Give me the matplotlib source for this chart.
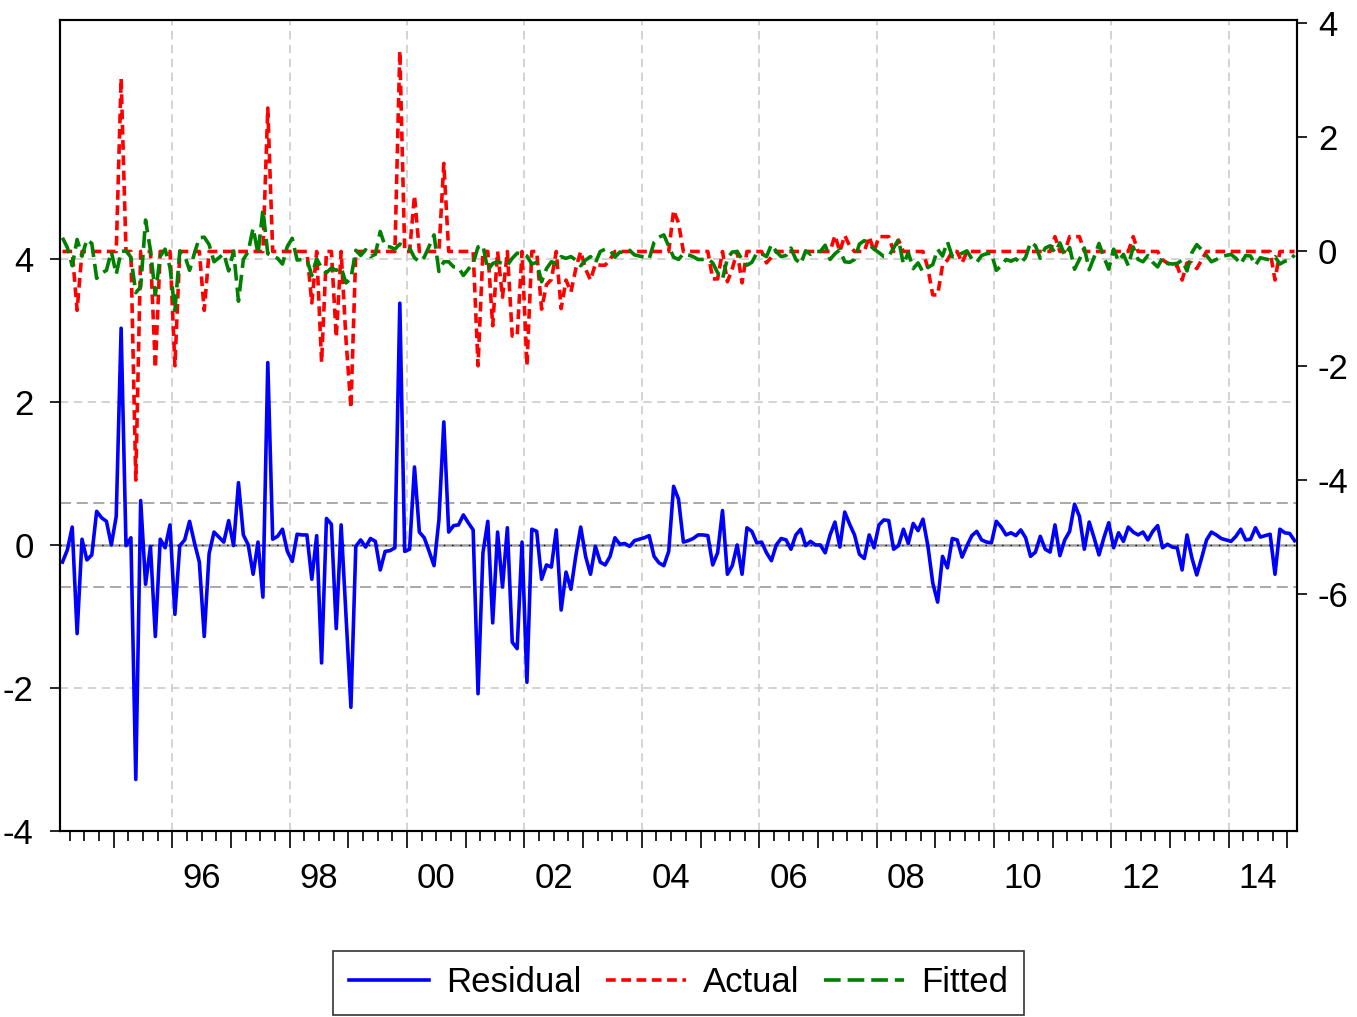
import numpy as np
import pandas as pd
import matplotlib
matplotlib.use('Agg')
import matplotlib.pyplot as plt

plt.rcParams['font.family'] = ['Liberation Sans', 'DejaVu Sans']
plt.rcParams['lines.scale_dashes'] = False
plt.rcParams['axes.unicode_minus'] = False

# monthly sample 1994M02 - 2015M02
months = pd.period_range('1994-02', '2015-02', freq='M')

# residuals (left axis), one row per year
residual = [
    -0.24, -0.07, 0.25, -1.24, 0.08, -0.21, -0.14, 0.47, 0.38, 0.33, 0.00,           # 1994
    0.40, 3.03, -0.01, 0.10, -3.28, 0.62, -0.55, -0.02, -1.28, 0.08, -0.04, 0.28,    # 1995
    -0.97, -0.01, 0.07, 0.33, 0.03, -0.24, -1.28, -0.12, 0.18, 0.11, 0.04, 0.34,     # 1996
    -0.01, 0.87, 0.14, 0.00, -0.41, 0.04, -0.73, 2.55, 0.08, 0.12, 0.22, -0.09,      # 1997
    -0.23, 0.15, 0.14, 0.14, -0.48, 0.13, -1.65, 0.37, 0.29, -1.17, 0.28, -1.00,     # 1998
    -2.27, -0.02, 0.07, -0.03, 0.09, 0.05, -0.35, -0.09, -0.08, -0.04, 3.38, -0.09,  # 1999
    -0.06, 1.09, 0.18, 0.10, -0.09, -0.29, 0.35, 1.72, 0.18, 0.27, 0.28, 0.42,       # 2000
    0.31, 0.21, -2.08, -0.11, 0.33, -1.09, 0.18, -0.59, 0.24, -1.36, -1.45, 0.04,    # 2001
    -1.92, 0.22, 0.19, -0.48, -0.28, -0.31, 0.21, -0.91, -0.38, -0.62, -0.15, 0.25,  # 2002
    -0.16, -0.41, -0.02, -0.24, -0.28, -0.16, 0.10, 0.01, 0.02, -0.02, 0.06, 0.08,   # 2003
    0.10, 0.13, -0.16, -0.25, -0.29, -0.09, 0.82, 0.64, 0.04, 0.06, 0.09, 0.14,      # 2004
    0.14, 0.13, -0.28, -0.11, 0.48, -0.41, -0.29, 0.00, -0.41, 0.24, 0.19, 0.03,     # 2005
    0.04, -0.11, -0.22, 0.00, 0.09, 0.07, -0.06, 0.14, 0.22, -0.01, 0.05, 0.00,      # 2006
    0.00, -0.11, 0.14, 0.32, -0.03, 0.46, 0.29, 0.14, -0.13, -0.19, 0.14, -0.04,     # 2007
    0.28, 0.35, 0.34, -0.06, -0.01, 0.22, 0.02, 0.30, 0.20, 0.36, -0.01, -0.53,      # 2008
    -0.80, -0.16, -0.32, 0.09, 0.07, -0.17, -0.01, 0.13, 0.19, 0.07, 0.04, 0.03,     # 2009
    0.33, 0.25, 0.14, 0.17, 0.13, 0.21, 0.10, -0.16, -0.10, 0.12, -0.06, -0.10,      # 2010
    0.28, -0.15, 0.07, 0.19, 0.57, 0.40, -0.06, 0.32, 0.10, -0.14, 0.10, 0.31,       # 2011
    -0.04, 0.17, 0.05, 0.25, 0.18, 0.14, 0.18, 0.07, 0.19, 0.27, -0.04, 0.01,        # 2012
    -0.03, -0.04, -0.35, 0.14, -0.18, -0.42, -0.18, 0.07, 0.18, 0.14, 0.09, 0.07,    # 2013
    0.05, 0.12, 0.22, 0.07, 0.08, 0.24, 0.11, 0.13, 0.15, -0.41, 0.22, 0.17,         # 2014
    0.16, 0.06,                                                                      # 2015
]

# actual series (right axis)
actual = [
    0.00, 0.00, 0.00, -1.03, 0.00, 0.00, 0.00, 0.00, 0.00, 0.00, 0.00,               # 1994
    0.00, 3.03, 0.00, 0.00, -4.00, 0.00, 0.00, 0.00, -2.04, 0.00, 0.00, 0.00,        # 1995
    -2.00, 0.00, 0.00, 0.00, 0.00, 0.00, -1.03, 0.00, 0.00, 0.00, 0.00, 0.00,        # 1996
    0.00, 0.00, 0.00, 0.00, 0.00, 0.00, 0.00, 2.51, 0.00, 0.00, 0.00, 0.00,          # 1997
    0.00, 0.00, 0.00, 0.00, -0.90, 0.00, -1.94, 0.00, 0.00, -1.50, 0.00, -1.55,      # 1998
    -2.74, 0.00, 0.00, 0.00, 0.00, 0.00, 0.00, 0.00, 0.00, 0.00, 3.51, 0.00,         # 1999
    0.00, 0.98, 0.00, 0.00, 0.00, 0.00, 0.00, 1.54, 0.00, 0.00, 0.00, 0.00,          # 2000
    0.00, 0.00, -2.00, 0.00, 0.00, -1.30, 0.00, -0.80, 0.00, -1.48, -1.48, 0.00,     # 2001
    -2.00, 0.00, 0.00, -1.01, -0.58, -0.49, 0.00, -1.00, -0.50, -0.71, -0.30, 0.00,  # 2002
    -0.31, -0.50, -0.22, -0.24, -0.24, -0.14, 0.00, 0.00, 0.00, 0.00, 0.00, 0.00,    # 2003
    0.00, 0.00, 0.00, 0.00, 0.00, 0.00, 0.72, 0.50, 0.00, 0.00, 0.00, 0.00,          # 2004
    0.00, 0.00, -0.48, -0.48, 0.00, -0.53, -0.30, 0.00, -0.55, 0.00, 0.00, 0.00,     # 2005
    0.00, -0.20, -0.10, 0.00, 0.00, 0.00, 0.00, 0.00, 0.00, 0.00, 0.00, 0.00,        # 2006
    0.00, 0.00, 0.00, 0.28, 0.00, 0.28, 0.10, 0.00, 0.00, 0.00, 0.26, 0.00,          # 2007
    0.26, 0.26, 0.26, 0.00, 0.20, 0.00, 0.00, 0.00, 0.00, 0.00, -0.29, -0.76,        # 2008
    -0.76, -0.24, -0.15, 0.00, 0.00, -0.20, 0.00, 0.00, 0.00, 0.00, 0.00, 0.00,      # 2009
    0.00, 0.00, 0.00, 0.00, 0.00, 0.00, 0.00, 0.00, 0.00, 0.00, 0.00, 0.00,          # 2010
    0.26, 0.00, 0.00, 0.26, 0.26, 0.26, 0.00, 0.00, 0.00, 0.00, 0.00, 0.00,          # 2011
    0.00, 0.00, 0.00, 0.00, 0.26, 0.00, 0.00, 0.00, 0.00, 0.00, -0.15, -0.20,        # 2012
    -0.25, -0.25, -0.50, -0.20, -0.20, -0.30, -0.15, 0.00, 0.00, 0.00, 0.00, 0.00,   # 2013
    0.00, 0.00, 0.00, 0.00, 0.00, 0.00, 0.00, 0.00, 0.00, -0.50, 0.00, 0.00,         # 2014
    0.00, 0.00,                                                                      # 2015
]

se_band = 0.59  # +/- one standard error of the regression
label_years = list(range(1996, 2015, 2))

resid = np.array(residual)
act = np.array(actual)
fitted = act - resid

# observations sit in the middle of their month
t = months.year + (months.month - 1) / 12 + 1 / 24

W, H = 1357, 1017
fig = plt.figure(figsize=(W / 100, H / 100), dpi=100)
ax = fig.add_axes([60 / W, 1 - 831 / H, (1297 - 60) / W, (831 - 20) / H])
ax2 = ax.twinx()

# grid
for yr in label_years:
    ax.axvline(yr, color='#cccccc', lw=1.2, dashes=(6, 4), zorder=0)
for y in [-2, 2, 4]:
    ax.axhline(y, color='#cccccc', lw=1.2, dashes=(6, 4), zorder=0)
ax.axhline(0, color='#a0a0a0', lw=1.8, zorder=1)
ax.axhline(0, color='black', lw=1.0, dashes=(1, 5), zorder=1)
for y in [se_band, -se_band]:
    ax.axhline(y, color='#999999', lw=1.2, dashes=(8, 4), zorder=1)

l1, = ax.plot(t, resid, color='#0000ff', lw=2.6, zorder=3, label='Residual')
l2, = ax2.plot(t, act, color='#ff0000', lw=2.6, dashes=(7, 4), label='Actual')
l3, = ax2.plot(t, fitted, color='#008000', lw=2.6, dashes=(12, 5), label='Fitted')

ax.set_xlim(1994 + 1 / 12, 2015 + 2 / 12)
ax.set_ylim(-4.0, 7.34)
ax2.set_ylim(-10.14, 4.05)

ax.set_yticks([-4, -2, 0, 2, 4])
ax2.set_yticks([-6, -4, -2, 0, 2, 4])
ax.tick_params(axis='y', direction='out', length=7, width=1.2, labelsize=25, pad=12)
ax2.tick_params(axis='y', direction='out', length=7, width=1.2, labelsize=25, pad=8)

# x axis: long ticks at years, short at quarters, labels centred on even years
ax.set_xticks(np.arange(1995, 2016))
ax.set_xticks(np.arange(1994.25, 2015.2, 0.25), minor=True)
ax.set_xticklabels([])
ax.tick_params(axis='x', which='major', direction='out', length=12, width=1.2)
ax.tick_params(axis='x', which='minor', direction='out', length=7, width=1.2)
for yr in label_years:
    ax.text(yr + 0.5, -0.058, f'{yr % 100:02d}', transform=ax.get_xaxis_transform(),
            ha='center', va='center', fontsize=25)

for a in (ax, ax2):
    for s in a.spines.values():
        s.set_linewidth(1.5)

leg = fig.legend([l1, l2, l3], ['Residual', 'Actual', 'Fitted'], loc='lower center',
                 bbox_to_anchor=(0.5, 2 / H), borderaxespad=0, ncol=3, frameon=True,
                 fancybox=False, edgecolor='black', fontsize=25, handlelength=2.3,
                 handletextpad=0.5, columnspacing=0.7, borderpad=0.45)
leg.get_frame().set_linewidth(1.2)

fig.savefig('out.png', dpi=100)
